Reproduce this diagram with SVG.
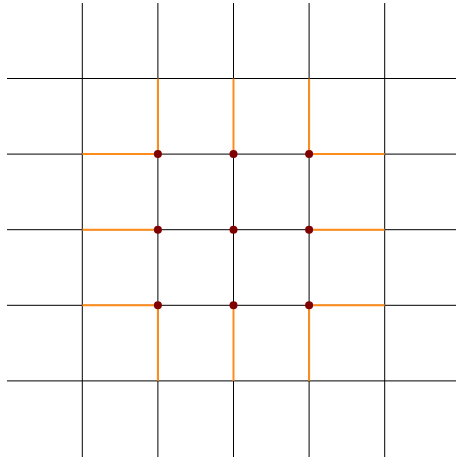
<svg xmlns="http://www.w3.org/2000/svg" width="456" height="460" viewBox="0 0 456 460">
<style>
.g{stroke:#000;stroke-width:1;fill:none}
.o{stroke:#ff8c1a;stroke-width:2;fill:none}
.d{fill:#800000}
</style>
<rect width="456" height="460" fill="#fff"/>
<g id="grid">
<line class="g" x1="82.3" y1="3" x2="82.3" y2="457"/>
<line class="g" x1="157.9" y1="3" x2="157.9" y2="457"/>
<line class="g" x1="233.5" y1="3" x2="233.5" y2="457"/>
<line class="g" x1="309.1" y1="3" x2="309.1" y2="457"/>
<line class="g" x1="384.7" y1="3" x2="384.7" y2="457"/>
<line class="g" x1="7" y1="78.5" x2="456" y2="78.5"/>
<line class="g" x1="7" y1="154.1" x2="456" y2="154.1"/>
<line class="g" x1="7" y1="229.7" x2="456" y2="229.7"/>
<line class="g" x1="7" y1="305.3" x2="456" y2="305.3"/>
<line class="g" x1="7" y1="380.9" x2="456" y2="380.9"/>
</g>
<g id="connectors">
<line class="o" x1="157.9" y1="78.5" x2="157.9" y2="154.1"/>
<line class="o" x1="233.5" y1="78.5" x2="233.5" y2="154.1"/>
<line class="o" x1="309.1" y1="78.5" x2="309.1" y2="154.1"/>
<line class="o" x1="157.9" y1="305.3" x2="157.9" y2="380.9"/>
<line class="o" x1="233.5" y1="305.3" x2="233.5" y2="380.9"/>
<line class="o" x1="309.1" y1="305.3" x2="309.1" y2="380.9"/>
<line class="o" x1="82.3" y1="154.1" x2="157.9" y2="154.1"/>
<line class="o" x1="82.3" y1="229.7" x2="157.9" y2="229.7"/>
<line class="o" x1="82.3" y1="305.3" x2="157.9" y2="305.3"/>
<line class="o" x1="309.1" y1="154.1" x2="384.7" y2="154.1"/>
<line class="o" x1="309.1" y1="229.7" x2="384.7" y2="229.7"/>
<line class="o" x1="309.1" y1="305.3" x2="384.7" y2="305.3"/>
</g>
<g id="n1"><circle class="d" cx="157.9" cy="154.1" r="4"/></g>
<g id="n2"><circle class="d" cx="233.5" cy="154.1" r="4"/></g>
<g id="n3"><circle class="d" cx="309.1" cy="154.1" r="4"/></g>
<g id="n4"><circle class="d" cx="157.9" cy="229.7" r="4"/></g>
<g id="n5"><circle class="d" cx="233.5" cy="229.7" r="4"/></g>
<g id="n6"><circle class="d" cx="309.1" cy="229.7" r="4"/></g>
<g id="n7"><circle class="d" cx="157.9" cy="305.3" r="4"/></g>
<g id="n8"><circle class="d" cx="233.5" cy="305.3" r="4"/></g>
<g id="n9"><circle class="d" cx="309.1" cy="305.3" r="4"/></g>
</svg>
